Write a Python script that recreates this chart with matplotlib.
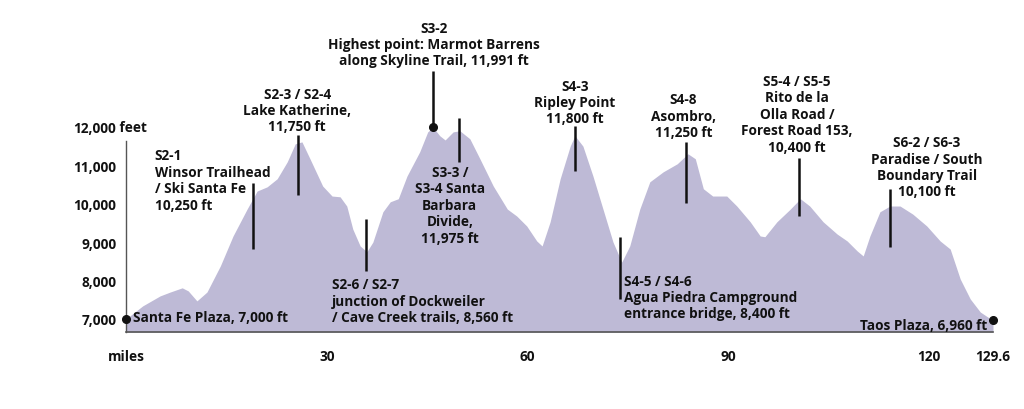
import matplotlib
matplotlib.use("Agg")
import matplotlib.pyplot as plt

# Elevation profile (miles, feet)
miles = [0.0, 2.5, 5.1, 6.6, 8.4, 9.3, 10.6, 12.1, 14.1, 16.0, 18.1, 19.6, 21.1, 22.6,
         24.1, 25.3, 26.3, 27.5, 29.4, 30.8, 32.0, 33.0, 33.9, 35.0, 36.0, 36.9, 38.4,
         39.5, 40.7, 42.0, 43.9, 45.1, 45.9, 46.9, 47.7, 48.9, 49.9, 51.4, 52.9, 54.9,
         57.0, 58.4, 59.9, 61.4, 62.2, 63.4, 64.9, 66.4, 67.1, 68.3, 69.8, 71.3, 72.8,
         74.1, 75.3, 76.8, 78.3, 80.3, 82.4, 84.0, 85.1, 86.3, 87.7, 89.8, 91.3, 93.3,
         94.8, 95.5, 97.3, 99.3, 100.8, 102.2, 104.2, 106.3, 107.8, 109.3, 110.2, 111.2,
         112.7, 114.2, 115.7, 117.6, 119.7, 121.7, 123.2, 124.7, 126.2, 127.7, 129.6]
feet = [7000, 7340, 7600, 7700, 7810, 7730, 7470, 7700, 8380, 9160, 9860, 10330, 10440, 10650,
        11090, 11560, 11610, 11170, 10460, 10200, 10180, 9940, 9340, 8900, 8750, 9000, 9790,
        10050, 10130, 10720, 11350, 11870, 11991, 11770, 11660, 11870, 11900, 11690, 11170, 10460,
        9860, 9680, 9420, 9030, 8900, 9530, 10650, 11500, 11770, 11500, 10720, 9860, 9000,
        8480, 8900, 9860, 10570, 10830, 11040, 11300, 11170, 10390, 10200, 10200, 9940, 9530,
        9160, 9140, 9530, 9860, 10130, 9940, 9530, 9210, 9030, 8770, 8640, 9160,
        9790, 9940, 9940, 9730, 9420, 9030, 8820, 8040, 7520, 7180, 6960]

y_ticks = [7000, 8000, 9000, 10000, 11000, 12000]
y_labels = ["7,000", "8,000", "9,000", "10,000", "11,000", "12,000"]
x_ticks = [0, 30, 60, 90, 120, 129.6]
x_labels = ["miles", "30", "60", "90", "120", "129.6"]

# callouts: leader line (mile, low ft, high ft) and label
callout_mile = [19.0, 25.7, 35.9, 45.9, 49.8, 67.1, 73.8, 83.7, 100.6, 114.2]
callout_low = [8820, 10230, 8250, 12000, 11090, 10850, 7520, 10020, 9680, 8880]
callout_high = [10540, 11790, 9600, 13460, 12230, 12030, 9140, 11610, 11190, 10390]
callout_text = [
    "S2-1\nWinsor Trailhead\n/ Ski Santa Fe\n10,250 ft",
    "S2-3 / S2-4\nLake Katherine,\n11,750 ft",
    "S2-6 / S2-7\njunction of Dockweiler\n/ Cave Creek trails, 8,560 ft",
    "S3-2\nHighest point: Marmot Barrens\nalong Skyline Trail, 11,991 ft",
    "S3-3 /\nS3-4 Santa\nBarbara\nDivide,\n11,975 ft",
    "S4-3\nRipley Point\n11,800 ft",
    "S4-5 / S4-6\nAgua Piedra Campground\nentrance bridge, 8,400 ft",
    "S4-8\nAsombro,\n11,250 ft",
    "S5-4 / S5-5\nRito de la\nOlla Road /\nForest Road 153,\n10,400 ft",
    "S6-2 / S6-3\nParadise / South\nBoundary Trail\n10,100 ft",
]
# where each label block sits (mile, ft, alignment)
text_mile = [4.3, 25.6, 30.8, 46.0, 48.4, 67.1, 74.4, 83.3, 100.3, 119.7]
text_feet = [10620, 12440, 7470, 14160, 9970, 12650, 7570, 12290, 12340, 10960]
text_ha = ["left", "center", "left", "center", "center", "center", "left", "center", "center", "center"]

FILL = "#bebad6"
INK = "#111111"
FS = 9.8

plt.rcParams["font.family"] = ["Open Sans", "DejaVu Sans"]
plt.rcParams["font.weight"] = "bold"

fig = plt.figure(figsize=(10.24, 4.10), dpi=100)
ax = fig.add_axes([126 / 1024, 77 / 410, 867 / 1024, 333 / 410])
ax.set_xlim(0, 129.6)
ax.set_ylim(6660, 15330)

ax.fill_between(miles, feet, 6660, color=FILL, lw=0)

for m, lo, hi in zip(callout_mile, callout_low, callout_high):
    ax.plot([m, m], [lo, hi], color=INK, lw=1.8, solid_capstyle="butt")

for m, f, t, ha in zip(text_mile, text_feet, callout_text, text_ha):
    ax.text(m, f, t, ha=ha, va="center", fontsize=FS, color=INK,
            linespacing=1.22, multialignment=ha)

# end points and the highest point
ax.plot([miles[0], miles[-1], 45.9], [feet[0], feet[-1], 11991], "o",
        color=INK, ms=5.5, clip_on=False, zorder=5)
ax.text(1.0, 7050, "Santa Fe Plaza, 7,000 ft", ha="left", va="center",
        fontsize=FS, color=INK)
ax.text(128.7, 6850, "Taos Plaza, 6,960 ft", ha="right", va="center",
        fontsize=FS, color=INK)

# axes styling
for side in ["top", "right"]:
    ax.spines[side].set_visible(False)
ax.spines["bottom"].set_color("#555555")
ax.spines["left"].set_color("#555555")
ax.spines["bottom"].set_linewidth(1.2)
ax.spines["left"].set_linewidth(1.0)
ax.spines["left"].set_bounds(6660, 11640)

ax.set_yticks(y_ticks, y_labels)
ax.set_xticks(x_ticks, x_labels)
ax.tick_params(axis="y", length=0, pad=7, labelsize=FS, labelcolor=INK)
ax.tick_params(axis="x", length=0, pad=12, labelsize=FS, labelcolor=INK)
# unit after the top tick label
ax.annotate(" feet", xy=(0, y_ticks[-1]), xycoords=("axes fraction", "data"),
            xytext=(-7, 0), textcoords="offset points", ha="left", va="center",
            fontsize=FS, color=INK)

fig.savefig("out.png", dpi=100)
